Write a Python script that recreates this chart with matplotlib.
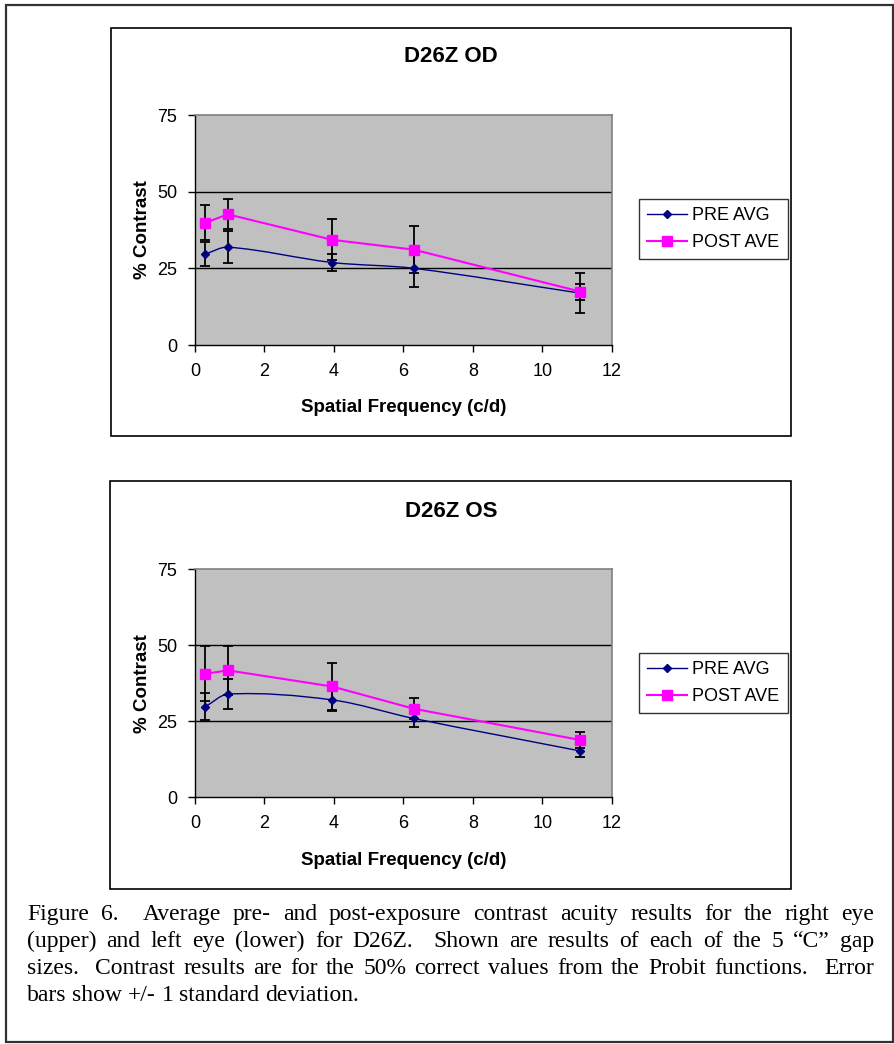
import matplotlib
matplotlib.use('Agg')
import matplotlib.pyplot as plt
from matplotlib.patches import Rectangle, PathPatch
from matplotlib.path import Path
from matplotlib.lines import Line2D
import numpy as np

# gap sizes as spatial frequency (c/d)
freq = [0.3, 0.95, 3.95, 6.3, 11.1]

# right eye (OD)
od_pre = [29.7, 31.9, 26.9, 25.0, 16.9]
od_pre_sd = [3.8, 5.2, 2.8, 6.0, 6.5]
od_post = [39.9, 42.6, 34.3, 31.1, 17.4]
od_post_sd = [5.8, 4.9, 6.7, 7.7, 2.6]

# left eye (OS)
os_pre = [29.8, 33.9, 32.0, 25.9, 15.2]
os_pre_sd = [4.4, 5.0, 3.7, 2.7, 1.9]
os_post = [40.6, 41.7, 36.4, 29.1, 18.8]
os_post_sd = [9.1, 8.0, 7.7, 3.4, 2.5]

titles = ['D26Z OD', 'D26Z OS']
caption = [
    'Figure 6.  Average pre- and post-exposure contrast acuity results for the right eye',
    '(upper) and left eye (lower) for D26Z.  Shown are results of each of the 5 \u201cC\u201d gap',
    'sizes.  Contrast results are for the 50% correct values from the Probit functions.  Error',
    'bars show +/- 1 standard deviation.',
]

W, H = 895, 1044
fig = plt.figure(figsize=(W / 100, H / 100), dpi=100)
plt.rcParams['font.family'] = ['Liberation Sans', 'DejaVu Sans']


def fx(px):
    return px / W


def fy(py):
    return 1 - py / H


def smooth_path(x, y):
    # cubic Hermite through the points, drawn as bezier segments (Excel smoothed line look)
    x = np.asarray(x, float)
    y = np.asarray(y, float)
    n = len(x)
    m = np.zeros(n)
    m[0] = (y[1] - y[0]) / (x[1] - x[0])
    m[-1] = (y[-1] - y[-2]) / (x[-1] - x[-2])
    for i in range(1, n - 1):
        m[i] = (y[i + 1] - y[i - 1]) / (x[i + 1] - x[i - 1])
    verts = [(x[0], y[0])]
    codes = [Path.MOVETO]
    for i in range(n - 1):
        h = x[i + 1] - x[i]
        verts += [(x[i] + h / 3, y[i] + m[i] * h / 3),
                  (x[i + 1] - h / 3, y[i + 1] - m[i + 1] * h / 3),
                  (x[i + 1], y[i + 1])]
        codes += [Path.CURVE4] * 3
    return Path(verts, codes)


# outer border and chart boxes
fig.patches.append(Rectangle((fx(6), fy(1042)), fx(887), 1037 / H, transform=fig.transFigure,
                             fill=False, edgecolor='#333333', linewidth=1.6))
boxes = [(111, 28, 791, 436), (110, 481, 791, 889)]
for (x0, y0, x1, y1) in boxes:
    fig.patches.append(Rectangle((fx(x0), fy(y1)), fx(x1 - x0), (y1 - y0) / H,
                                 transform=fig.transFigure, fill=False,
                                 edgecolor='black', linewidth=1.2))

axes_px = [(195, 115, 611.7, 345), (195, 569, 611.7, 797.3)]
series = [(od_pre, od_pre_sd, od_post, od_post_sd), (os_pre, os_pre_sd, os_post, os_post_sd)]
title_y = [57, 512]
legend_y = [199, 653]

for k in range(2):
    x0, y0, x1, y1 = axes_px[k]
    ax = fig.add_axes([fx(x0), fy(y1), fx(x1 - x0), (y1 - y0) / H])
    pre, pre_sd, post, post_sd = series[k]
    ax.set_facecolor('#C0C0C0')
    ax.set_xlim(0, 12)
    ax.set_ylim(0, 75)
    ax.set_xticks(range(0, 13, 2))
    ax.set_yticks([0, 25, 50, 75])
    for g in [25, 50]:
        ax.axhline(g, color='black', linewidth=1.0, zorder=1)
    for s in ['top', 'right']:
        ax.spines[s].set_color('#808080')
        ax.spines[s].set_linewidth(1.2)
    for s in ['left', 'bottom']:
        ax.spines[s].set_color('black')
        ax.spines[s].set_linewidth(1.0)
    ax.tick_params(direction='out', length=5, width=1, labelsize=13, pad=8, colors='black')

    ax.errorbar(freq, pre, yerr=pre_sd, fmt='none', ecolor='black', elinewidth=1.3,
                capsize=3.5, capthick=1.3, zorder=3)
    ax.errorbar(freq, post, yerr=post_sd, fmt='none', ecolor='black', elinewidth=1.3,
                capsize=3.5, capthick=1.3, zorder=3)
    ax.add_patch(PathPatch(smooth_path(freq, pre), fill=False, edgecolor='#000080',
                           linewidth=1.0, zorder=4))
    ax.plot(freq, pre, linestyle='none', marker='D', markersize=4.5, color='#000080', zorder=5)
    ax.plot(freq, post, color='#FF00FF', linewidth=1.5, marker='s', markersize=6.5, zorder=6)

    ax.set_xlabel('Spatial Frequency (c/d)', fontsize=13.5, fontweight='bold', labelpad=14)
    ax.set_ylabel('% Contrast', fontsize=13.5, fontweight='bold', labelpad=4)
    fig.text(fx(451), fy(title_y[k]), titles[k], ha='center', va='center',
             fontsize=16, fontweight='bold')

    handles = [Line2D([], [], color='#000080', linewidth=1.0, marker='D', markersize=4.5),
               Line2D([], [], color='#FF00FF', linewidth=1.5, marker='s', markersize=6.5)]
    leg = fig.legend(handles, ['PRE AVG', 'POST AVE'], loc='upper left',
                     bbox_to_anchor=(fx(639), fy(legend_y[k])), fontsize=13,
                     frameon=True, fancybox=False, handlelength=2.2, handletextpad=0.3,
                     borderpad=0.45, labelspacing=0.55, borderaxespad=0)
    leg.get_frame().set_edgecolor('black')
    leg.get_frame().set_linewidth(1.0)

# justified caption in a serif face
renderer = fig.canvas.get_renderer()
cap_size = 17
left, right = 27, 874
line_y = [920, 947, 974, 1001]
for i, line in enumerate(caption):
    words = line.split(' ')
    texts = [fig.text(0, 0, w, fontsize=cap_size, family=['Liberation Serif', 'DejaVu Serif'],
                      va='baseline') for w in words]
    widths = [t.get_window_extent(renderer).width for t in texts]
    nsp = len(words) - 1
    if i < len(caption) - 1:
        gap = (right - left - sum(widths)) / nsp
    else:
        sp = fig.text(0, 0, 'a a', fontsize=cap_size, family=['Liberation Serif'])
        aa = fig.text(0, 0, 'aa', fontsize=cap_size, family=['Liberation Serif'])
        gap = sp.get_window_extent(renderer).width - aa.get_window_extent(renderer).width
        sp.remove()
        aa.remove()
    x = left
    for t, w in zip(texts, widths):
        t.set_position((fx(x), fy(line_y[i])))
        x += w + gap

fig.savefig('out.png', dpi=100)
